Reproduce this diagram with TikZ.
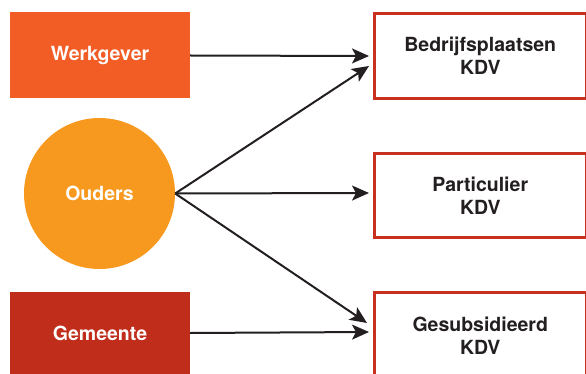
\documentclass[tikz,border=0pt]{standalone}
\usepackage{fontspec}
\setmainfont{TeX Gyre Heros}
\usetikzlibrary{arrows.meta}
\definecolor{werkorange}{HTML}{F15D24}
\definecolor{oudersorange}{HTML}{F7991F}
\definecolor{gemeentered}{HTML}{C12D1B}
\definecolor{kdvred}{HTML}{C8311F}
\definecolor{inkdark}{HTML}{231F20}
\tikzset{
  label text/.style={font=\fontsize{19.5}{22.7}\selectfont\bfseries, align=center},
  source box/.style={label text, rectangle, inner sep=0pt, text=white,
    minimum width=180pt},
  source circle/.style={label text, circle, inner sep=0pt, text=white,
    fill=oudersorange, minimum size=151pt},
  kdv box/.style={label text, rectangle, inner sep=0pt, text=inkdark,
    draw=kdvred, line width=3pt, fill=white, minimum width=211.5pt},
  flow/.style={draw=inkdark, line width=2pt,
    -{Stealth[length=17pt,width=15pt,inset=4pt]}},
}
\begin{document}
\begin{tikzpicture}[x=1pt,y=-1pt]
  \useasboundingbox (0,0) rectangle (586,374);
  \clip (0,0) rectangle (586,374);

  % sources
  \node[source box, fill=werkorange, minimum height=86pt] (werk) at (100,55.5) {Werkgever};
  \node[source circle] (ouders) at (99.5,193.5) {Ouders};
  \node[source box, fill=gemeentered, minimum height=82pt] (gem) at (100,333) {Gemeente};

  % childcare types
  \node[kdv box, minimum height=85pt] (bedrijf) at (480.25,56) {Bedrijfsplaatsen\\KDV};
  \node[kdv box, minimum height=84pt] (partic) at (480.25,195.5) {Particulier\\KDV};
  \node[kdv box, minimum height=87pt] (gesub) at (480.25,336) {Gesubsidieerd\\KDV};

  % flows
  \draw[flow] (werk.east) -- ([xshift=-4pt]bedrijf.west);
  \draw[flow] (ouders.east) -- ([xshift=-4pt,yshift=-10pt]bedrijf.west);
  \draw[flow] (ouders.east) -- ([xshift=-4pt,yshift=2.5pt]partic.west);
  \draw[flow] (ouders.east) -- ([xshift=-6pt,yshift=13pt]gesub.west);
  \draw[flow] (gem.east) -- ([xshift=-4pt,yshift=4pt]gesub.west);
\end{tikzpicture}
\end{document}
